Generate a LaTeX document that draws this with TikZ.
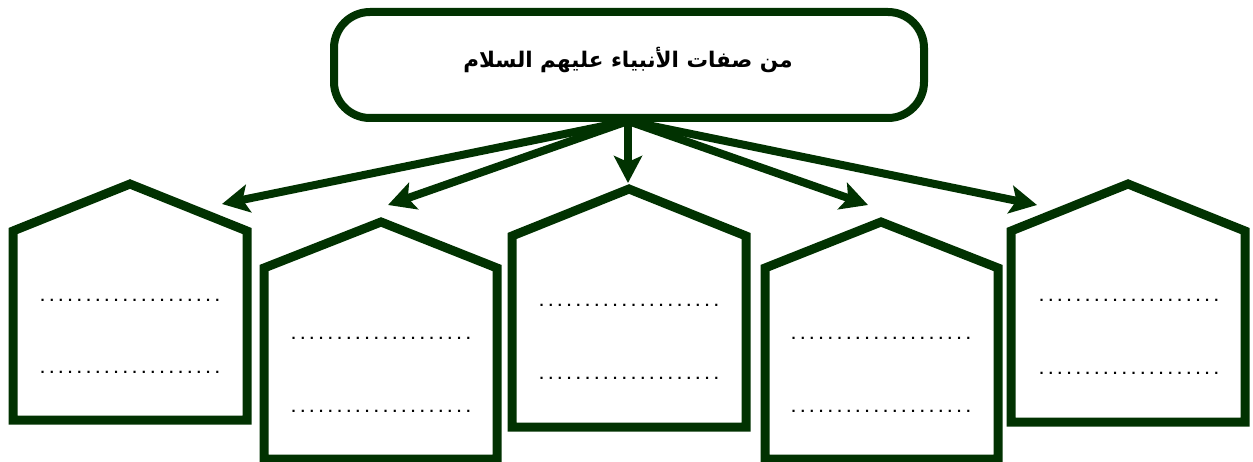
\documentclass[tikz,border=0pt]{standalone}
\usepackage{fontspec}
\usetikzlibrary{arrows.meta}
\TeXXeTstate=1
\newfontfamily\arabicfont[Script=Arabic]{DejaVu Sans}
\newfontfamily\dotfont{DejaVu Sans}
\definecolor{dgreen}{RGB}{1,50,1}
\newcommand\dotrow{\hbox to 184pt{\leaders\hbox to 9.2pt{\hss.\hss}\hfill}}
\tikzset{
  house/.style={draw=dgreen, line width=9pt, line join=miter},
  titlebox/.style={draw=dgreen, line width=8pt, rounded corners=36pt, minimum width=590pt, minimum height=106pt, inner sep=0pt},
  arr/.style={draw=dgreen, line width=8pt, -{Stealth[length=27pt,width=28pt,inset=6pt]}},
  dots/.style={inner sep=0pt, anchor=base, font=\dotfont\bfseries\fontsize{12}{12}\selectfont},
}
\begin{document}
\begin{tikzpicture}[x=1pt,y=-1pt]
\useasboundingbox (0,0) rectangle (1253,462);
% title
\node[titlebox] (title) at (629,65) {};
\node (titletext) at (628,60) {\arabicfont\bfseries\fontsize{21.5}{24}\selectfont\beginR من صفات الأنبياء عليهم السلام\endR};
% houses
\draw[house] (13,420) -- (13,231) -- (130,184) -- (247,231) -- (247,420) -- cycle;
\draw[house] (264,459) -- (264,268) -- (381,222) -- (497,268) -- (497,459) -- cycle;
\draw[house] (512,427) -- (512,236) -- (629,189) -- (746,236) -- (746,427) -- cycle;
\draw[house] (765,459) -- (765,268) -- (881,222) -- (998,268) -- (998,459) -- cycle;
\draw[house] (1011,422) -- (1011,231) -- (1128,184) -- (1245,231) -- (1245,422) -- cycle;
% dotted lines
\node[dots] (d1a) at (130,302) {\dotrow};
\node[dots] (d1b) at (130,373) {\dotrow};
\node[dots] (d2a) at (381,340) {\dotrow};
\node[dots] (d2b) at (381,412) {\dotrow};
\node[dots] (d3a) at (629,307) {\dotrow};
\node[dots] (d3b) at (629,379) {\dotrow};
\node[dots] (d4a) at (881,340) {\dotrow};
\node[dots] (d4b) at (881,412) {\dotrow};
\node[dots] (d5a) at (1129,302) {\dotrow};
\node[dots] (d5b) at (1129,374) {\dotrow};
% arrow targets
\coordinate (hub) at (628,121);
\coordinate (t1) at (222,204);
\coordinate (t2) at (388,205);
\coordinate (t3) at (628,183);
\coordinate (t4) at (868,205);
\coordinate (t5) at (1037,205);
\draw[arr] (hub) -- (t1);
\draw[arr] (hub) -- (t2);
\draw[arr] (hub) -- (t3);
\draw[arr] (hub) -- (t4);
\draw[arr] (hub) -- (t5);
\end{tikzpicture}
\end{document}
